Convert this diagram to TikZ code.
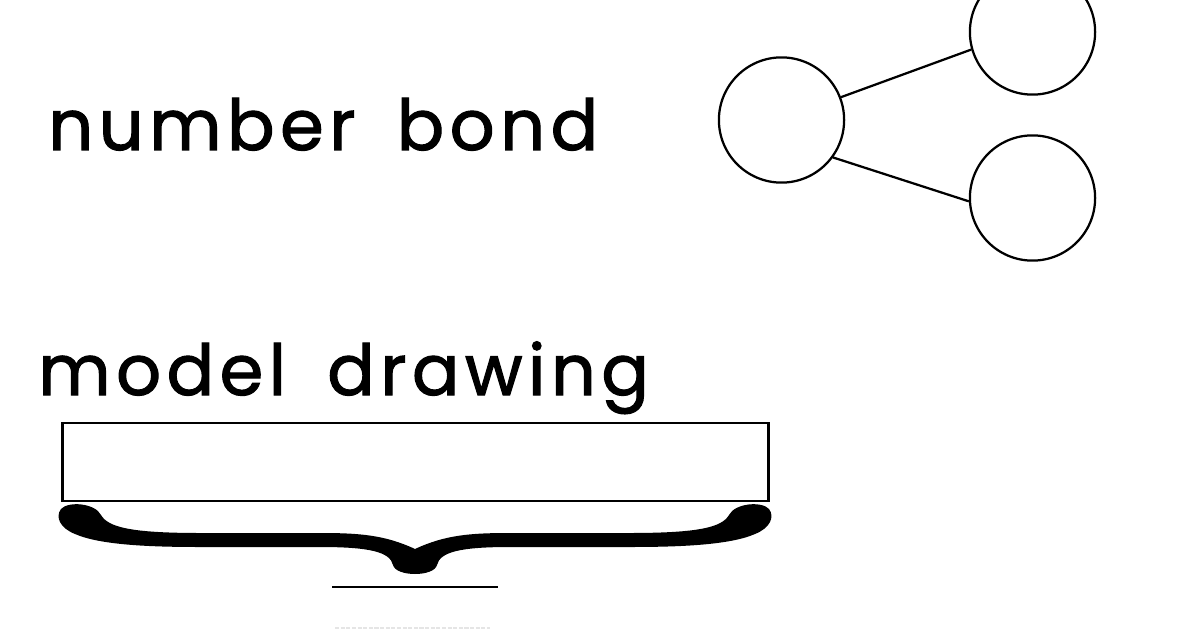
\documentclass[tikz,border=0pt]{standalone}
\usepackage{fontspec}
\setmainfont{Poppins}[LetterSpace=7.8, WordSpace=1.7, FakeBold=1.6]
\usepackage{tikz}

\begin{document}
\begin{tikzpicture}[x=0.025cm, y=-0.025cm,
    bondcircle/.style={circle, draw, line width=1.6pt, minimum size=3.13cm,
                       inner sep=0pt},
    title/.style={anchor=base west, inner sep=0pt,
                  font=\fontsize{50}{50}\selectfont}]
    \useasboundingbox (0,0) rectangle (1200,630);

    % Number Bond

    \node (bondtitle) [title] at (48,150) {number bond};
    \node (whole) [bondcircle] at (781.5,120) {};
    \node (parttop) [bondcircle] at (1032.5,32) {};
    \node (partbottom) [bondcircle] at (1032.5,198) {};
    \draw[line width=1.6pt] (whole.21) -- (parttop.196);
    \draw[line width=1.6pt] (whole.-36) -- (partbottom.183);

    % Model Drawing

    \node (modeltitle) [title] at (38,395) {model drawing};
    \node (bar) [rectangle, draw, line width=1.8pt, minimum width=17.65cm,
                 minimum height=1.95cm, inner sep=0pt]
          at (415.5,462) {};
    \fill (415,549)
        .. controls (385,535) and (360,533) .. (320,533)
        -- (200,533)
        .. controls (130,533) and (108,527) .. (101,515)
        .. controls (95,503) and (68,501) .. (61,509)
        .. controls (55,517) and (60,528) .. (75,534)
        .. controls (100,545) and (150,547) .. (200,547)
        -- (320,547)
        .. controls (370,547) and (390,552) .. (393,565)
        .. controls (396,577) and (434,577) .. (437,565)
        .. controls (440,552) and (460,547) .. (510,547)
        -- (630,547)
        .. controls (680,547) and (730,545) .. (755,534)
        .. controls (770,528) and (775,517) .. (769,509)
        .. controls (762,501) and (735,503) .. (729,515)
        .. controls (722,527) and (700,533) .. (630,533)
        -- (510,533)
        .. controls (470,533) and (445,535) .. (415,549) -- cycle;
    \coordinate (totalleft) at (332,587);
    \coordinate (totalright) at (498,587);
    \draw[line width=1.2pt] (totalleft) -- (totalright);
    \coordinate (fadeleft) at (335,628);
    \coordinate (faderight) at (490,628);
    \draw[gray!20, line width=1pt, dash pattern=on 3pt off 1pt]
        (fadeleft) -- (faderight);
\end{tikzpicture}
\end{document}
